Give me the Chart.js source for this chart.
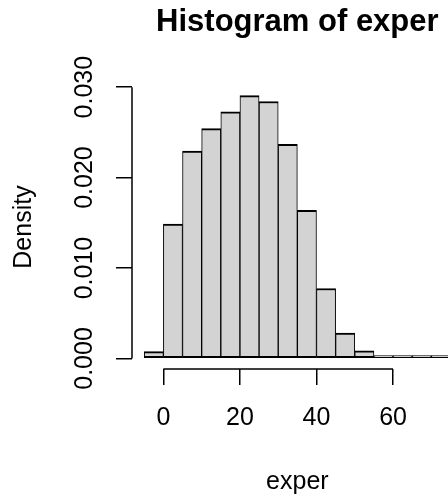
<!DOCTYPE html>
<html>
<head>
<meta charset="utf-8">
<script src="https://cdn.jsdelivr.net/npm/chart.js@4/dist/chart.umd.min.js"></script>
<style>
  html, body { margin: 0; padding: 0; background: #fff; overflow: hidden; }
  #wrap { position: relative; width: 524px; height: 499px; }
</style>
</head>
<body>
<div id="wrap"><canvas id="c"></canvas></div>
<script>
// ---- data ----
const breaks = [-5, 0, 5, 10, 15, 20, 25, 30, 35, 40, 45, 50, 55, 60, 65, 70, 75];
const density = [0.00075, 0.01486, 0.02293, 0.02541, 0.02726, 0.02907, 0.02841, 0.02367,
                 0.01637, 0.00774, 0.00281, 0.00085, 0.0003, 0.00012, 0.00004, 0.00003];
const xTicks = [0, 20, 40, 60];
const yTicks = [0, 0.005, 0.010, 0.015, 0.020, 0.025, 0.030];
const yTickLabels = ['0.000', '', '0.010', '', '0.020', '', '0.030'];
const titleText = 'Histogram of exper';
const xLabel = 'exper';
const yLabel = 'Density';

// ---- build histogram points (bin centre, density) ----
const points = density.map((d, i) => ({ x: (breaks[i] + breaks[i + 1]) / 2, y: d }));

const FONT = '"Liberation Sans", Arial, Helvetica, sans-serif';
Chart.defaults.font.family = FONT;
Chart.defaults.color = '#000';

const axisLines = {
  id: 'axisLines',
  afterDraw(chart) {
    const { ctx, chartArea, scales: { x, y } } = chart;
    ctx.save();
    ctx.strokeStyle = '#000';
    ctx.lineWidth = 1.5;
    ctx.beginPath();
    ctx.moveTo(x.getPixelForValue(xTicks[0]), chartArea.bottom);
    ctx.lineTo(x.getPixelForValue(xTicks[xTicks.length - 1]), chartArea.bottom);
    ctx.moveTo(chartArea.left, y.getPixelForValue(yTicks[0]));
    ctx.lineTo(chartArea.left, y.getPixelForValue(yTicks[yTicks.length - 1]));
    ctx.stroke();
    ctx.restore();
  }
};

new Chart(document.getElementById('c'), {
  type: 'bar',
  data: {
    datasets: [{
      data: points,
      backgroundColor: '#d3d3d3',
      borderColor: '#000',
      borderWidth: { top: 2, bottom: 2, left: 1, right: 1 },
      borderSkipped: false,
      barPercentage: 1,
      categoryPercentage: 1,
      minBarLength: 3
    }]
  },
  options: {
    responsive: true,
    maintainAspectRatio: false,
    animation: false,
    devicePixelRatio: 1,
    layout: { padding: { left: 0, right: 61.3, top: 0, bottom: 0 } },
    plugins: {
      legend: { display: false },
      tooltip: { enabled: false },
      title: {
        display: true,
        text: titleText,
        fullSize: false,
        color: '#000',
        font: { size: 31, weight: 'bold', family: FONT, lineHeight: 1.2 },
        padding: { top: 3.5, bottom: 44.3 }
      }
    },
    scales: {
      x: {
        type: 'linear',
        min: -8.2,
        max: 78.2,
        offset: false,
        afterBuildTicks: s => { s.ticks = xTicks.map(v => ({ value: v })); },
        afterFit: s => { s.height = 130; },
        grid: { offset: false, drawOnChartArea: false, drawTicks: true, tickLength: 16, color: '#000', lineWidth: 1.5 },
        border: { display: false },
        ticks: { font: { size: 25 }, padding: 18, maxRotation: 0, minRotation: 0, color: '#000' },
        title: { display: true, text: xLabel, font: { size: 25, lineHeight: 1.2 }, padding: { top: 0, bottom: 1.7 }, color: '#000' }
      },
      y: {
        type: 'linear',
        min: -0.001164,
        max: 0.030238,
        afterBuildTicks: s => { s.ticks = yTicks.map(v => ({ value: v })); },
        afterFit: s => { s.width = 132; },
        grid: { drawOnChartArea: false, drawTicks: true, tickLength: 16, color: '#000', lineWidth: 1.5 },
        border: { display: false },
        ticks: {
          font: { size: 25 },
          padding: 0,
          minRotation: 90,
          maxRotation: 90,
          crossAlign: 'center',
          color: '#000',
          callback: (v, i) => yTickLabels[i]
        },
        title: { display: true, text: yLabel, font: { size: 25, lineHeight: 1.2 }, padding: { top: 9.5, bottom: 0 }, color: '#000' }
      }
    }
  },
  plugins: [axisLines]
});
</script>
</body>
</html>
